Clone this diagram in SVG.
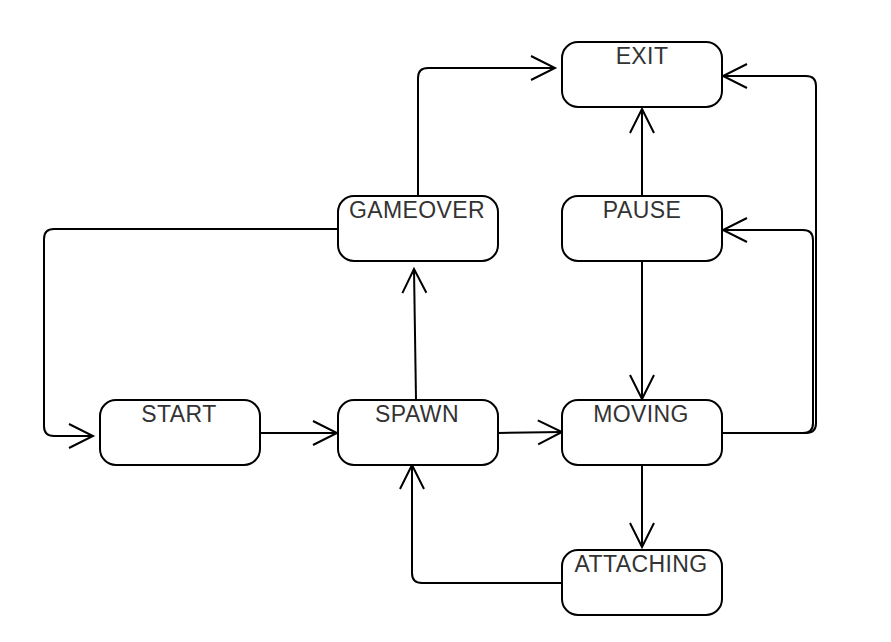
<svg xmlns="http://www.w3.org/2000/svg" width="891" height="642" viewBox="0 0 891 642">
<defs>
<marker id="arr" markerUnits="userSpaceOnUse" viewBox="-26 -14 28 28" refX="0" refY="0" markerWidth="28" markerHeight="28" orient="auto" overflow="visible">
<path d="M-24,-12 L0,0 L-24,12" fill="none" stroke="#000" stroke-width="2"/>
</marker>
</defs>
<style>
.box{fill:#fff;stroke:#000;stroke-width:2}
.lbl{font-family:"Liberation Sans",Arial,sans-serif;font-size:23px;letter-spacing:0.4px;fill:#333;text-anchor:middle}
.edge{fill:none;stroke:#000;stroke-width:2;marker-end:url(#arr)}
</style>
<rect width="891" height="642" fill="#fff"/>
<g id="connectors">
<path class="edge" d="M418,196 V78 Q418,68 428,68 H555"/>
<path class="edge" d="M642,196 V109"/>
<path class="edge" d="M722,433 H806 Q816,433 816,423 V86 Q816,76 806,76 H723"/>
<path class="edge" d="M722,433 H803 Q813,433 813,423 V240 Q813,230 803,230 H723"/>
<path class="edge" d="M642,262 V399"/>
<path class="edge" d="M642,466 V547"/>
<path class="edge" d="M562,583 H422 Q412,583 412,573 V465"/>
<path class="edge" d="M416,400 L414,269"/>
<path class="edge" d="M260,433 H337"/>
<path class="edge" d="M338,229 H54 Q44,229 44,239 V426 Q44,436 54,436 H93"/>
<path class="edge" d="M498,433 L562,432"/>
</g>
<g id="node-exit"><rect class="box" x="562" y="42" width="160" height="65" rx="16"/><text class="lbl" x="642" y="64">EXIT</text></g>
<g id="node-pause"><rect class="box" x="562" y="196" width="160" height="65" rx="16"/><text class="lbl" x="642" y="218">PAUSE</text></g>
<g id="node-gameover"><rect class="box" x="338" y="196" width="160" height="65" rx="16"/><text class="lbl" x="417" y="218">GAMEOVER</text></g>
<g id="node-start"><rect class="box" x="100" y="400" width="160" height="65" rx="16"/><text class="lbl" x="179" y="422">START</text></g>
<g id="node-spawn"><rect class="box" x="338" y="400" width="160" height="65" rx="16"/><text class="lbl" x="417" y="422">SPAWN</text></g>
<g id="node-moving"><rect class="box" x="562" y="400" width="160" height="65" rx="16"/><text class="lbl" x="641" y="422">MOVING</text></g>
<g id="node-attaching"><rect class="box" x="562" y="550" width="160" height="65" rx="16"/><text class="lbl" x="641" y="572">ATTACHING</text></g>
</svg>
